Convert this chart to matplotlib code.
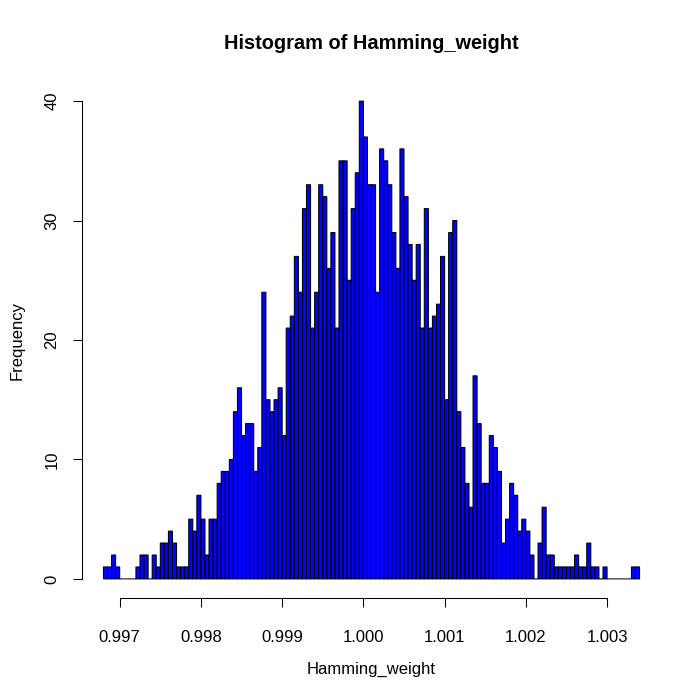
import matplotlib
matplotlib.use("Agg")
import matplotlib.pyplot as plt
import numpy as np

# Histogram data
bin_start = 0.9968
bin_width = 0.00005
counts = [
    1, 1, 2, 1, 0, 0, 0, 0, 1, 2, 2, 0, 2, 1, 3, 3, 4, 3, 1, 1, 1, 5, 4, 7, 5, 2, 5, 5, 8, 9, 9, 10,
    14, 16, 12, 13, 13, 9, 11, 24, 15, 14, 15, 16, 12, 21, 22, 27, 24,
    31,
    33, 21, 24, 33, 32, 26, 29, 21, 35, 35, 25, 31, 34, 40, 37, 33, 33, 24, 36, 35, 33,
    29, 26, 36, 32, 28, 25, 28, 21, 31, 21, 22, 23, 27, 15, 29, 30, 14, 11, 8, 6,
    17, 13, 8, 8, 12, 11, 9, 3, 5, 8, 7, 4, 5, 4, 2, 0, 3, 6, 2, 2,
    1, 1, 1, 1, 1, 2, 1, 1, 3, 1, 1, 0, 1, 0, 0, 0, 0, 0, 0, 1, 1,
]
x_ticks = [0.997, 0.998, 0.999, 1.000, 1.001, 1.002, 1.003]
x_tick_labels = ["0.997", "0.998", "0.999", "1.000", "1.001", "1.002", "1.003"]
y_ticks = [0, 10, 20, 30, 40]
y_tick_labels = ["0", "10", "20", "30", "40"]

plt.rcParams['font.family'] = ['Liberation Sans', 'DejaVu Sans']

W = H = 700
fig = plt.figure(figsize=(7, 7), dpi=100)
ax = fig.add_axes([82 / W, 102 / H, 579 / W, 516 / H])

n = len(counts)
edges = bin_start + bin_width * np.arange(n + 1)
bars = ax.bar(edges[:-1], counts, width=bin_width, align='edge',
              color='#0000FF', edgecolor='black', linewidth=0.75)
for b in bars:
    b.set_snap(False)

rng = edges[-1] - edges[0]
ax.set_xlim(edges[0] - 0.04 * rng, edges[-1] + 0.04 * rng)
ymax = max(counts)
ax.set_ylim(-0.04 * ymax, ymax * 1.04)

for s in ['top', 'right']:
    ax.spines[s].set_visible(False)
ax.spines['bottom'].set_bounds(x_ticks[0], x_ticks[-1])
ax.spines['left'].set_bounds(y_ticks[0], y_ticks[-1])
for s in ['bottom', 'left']:
    ax.spines[s].set_linewidth(0.75)
    ax.spines[s].set_color('black')

ax.set_xticks(x_ticks)
ax.set_xticklabels(x_tick_labels)
ax.set_yticks(y_ticks)
ax.set_yticklabels(y_tick_labels)
ax.tick_params(axis='both', direction='out', length=6.8, width=0.75,
               color='black', labelsize=12)
ax.tick_params(axis='x', pad=16.5)
ax.tick_params(axis='y', pad=9.5, labelrotation=90)
for lbl in ax.get_yticklabels():
    lbl.set_va('center')

fig.text(371.5 / W, 1 - 49 / H, "Histogram of Hamming_weight",
         ha='center', va='baseline', fontsize=14.4, fontweight='bold')
fig.text(371.5 / W, 1 - 674.3 / H, "Hamming_weight",
         ha='center', va='baseline', fontsize=12)
fig.text(17 / W, 1 - 340 / H, "Frequency", rotation=90,
         ha='center', va='center', fontsize=12)

fig.savefig("out.png", dpi=100)
